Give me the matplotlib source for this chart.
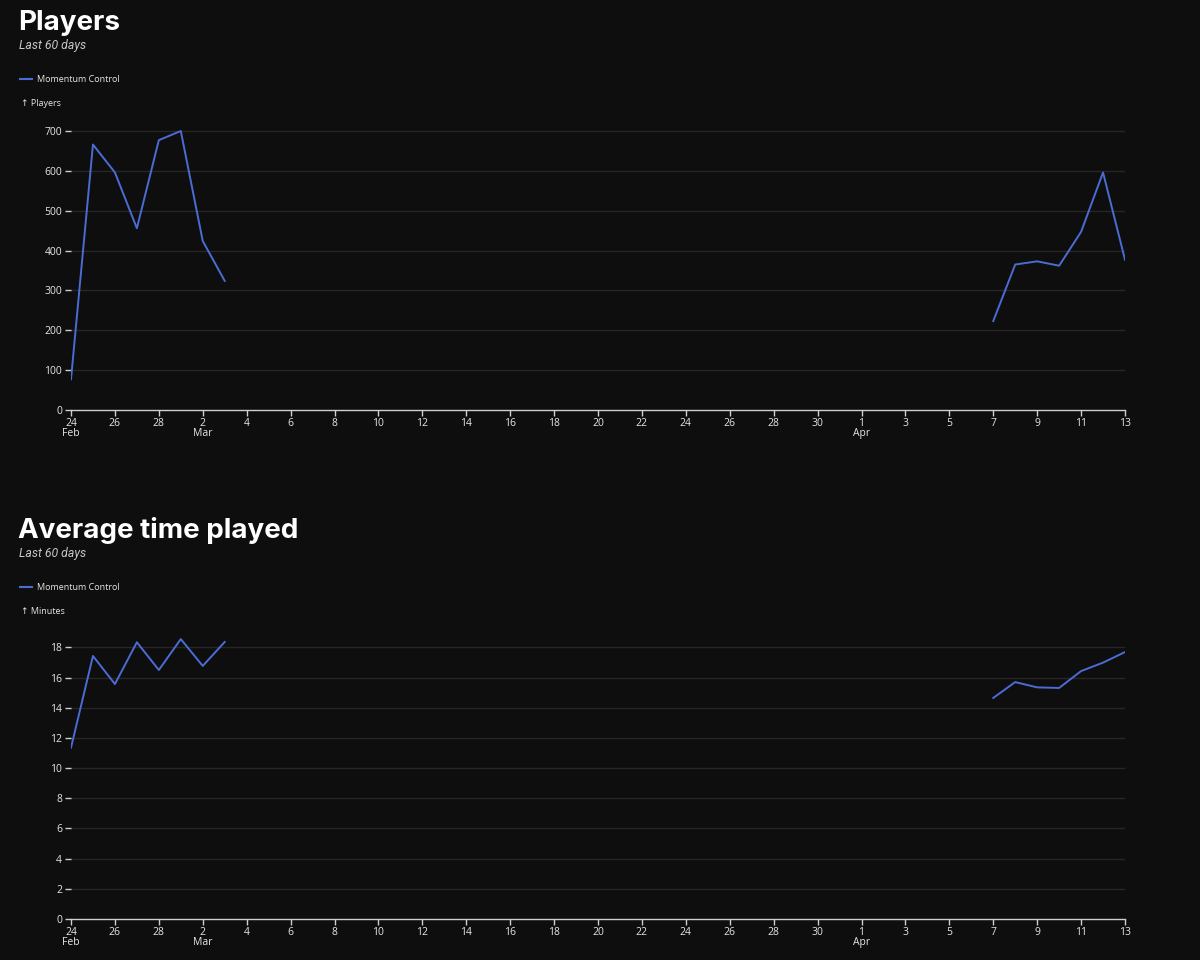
import numpy as np
import pandas as pd
import matplotlib
matplotlib.use('Agg')
import matplotlib.pyplot as plt
from matplotlib.lines import Line2D

# Daily values, two stretches of data with a gap in between
early_dates = pd.date_range('2025-02-24', '2025-03-03', freq='D')
late_dates = pd.date_range('2025-04-07', '2025-04-13', freq='D')

players_early = [77, 666, 596, 456, 677, 700, 424, 324]
players_late = [223, 365, 373, 362, 447, 596, 377]

minutes_early = [11.35, 17.43, 15.57, 18.34, 16.5, 18.55, 16.77, 18.36]
minutes_late = [14.65, 15.7, 15.35, 15.31, 16.43, 16.99, 17.69]

series_name = 'Momentum Control'
players_ticks = [0, 100, 200, 300, 400, 500, 600, 700]
minutes_ticks = [0, 2, 4, 6, 8, 10, 12, 14, 16, 18]

start = pd.Timestamp('2025-02-24')
end = pd.Timestamp('2025-04-13')
full_range = pd.date_range(start, end, freq='D')

BG = '#0e0e0e'
LINE = '#4a6cd4'
TXT = '#e6e6e6'
GRID = '#262626'

W, H = 1200, 960
fig = plt.figure(figsize=(12, 9.6), dpi=100, facecolor=BG)


def fx(px):
    return px / W


def fy(py):
    return 1 - py / H


def make_series(early, late):
    s = pd.Series(np.nan, index=full_range)
    s[early_dates] = early
    s[late_dates] = late
    return s


def draw_panel(top_px, title, unit, values, yticks, ytop, y0_px, ytop_px):
    # header texts
    fig.text(fx(18), fy(top_px + 23), title, color='white', fontsize=20,
             fontweight='bold', family='Inter', va='center', ha='left')
    fig.text(fx(19), fy(top_px + 45), 'Last 60 days', color='#c8c8c8',
             fontsize=8.8, style='italic', family='Roboto', va='center', ha='left')
    fig.add_artist(Line2D([fx(20), fx(32)], [fy(top_px + 79)] * 2,
                          color=LINE, lw=1.5))
    fig.text(fx(37), fy(top_px + 79), series_name, color=TXT, fontsize=6.5,
             family='Open Sans', va='center', ha='left')
    fig.text(fx(21), fy(top_px + 103), '\u2191 ' + unit, color=TXT, fontsize=6.5,
             family=['Open Sans', 'DejaVu Sans'], va='center', ha='left')

    ax = fig.add_axes([fx(71), fy(y0_px), fx(1125) - fx(71), fy(ytop_px) - fy(y0_px)])
    ax.set_facecolor(BG)
    ax.plot(values.index, values.values, color=LINE, lw=1.4)

    ax.set_ylim(0, ytop)
    ax.set_xlim(start, end)
    ax.set_yticks(yticks)
    ax.set_yticklabels([str(t) for t in yticks])
    for t in yticks[1:]:
        ax.axhline(t, color=GRID, lw=1, zorder=0)

    xt = pd.date_range(start, end, freq='2D')
    labels = []
    prev_month = None
    for d in xt:
        if d.month != prev_month:
            labels.append('%d\n%s' % (d.day, d.strftime('%b')))
        else:
            labels.append(str(d.day))
        prev_month = d.month
    ax.set_xticks(xt)
    ax.set_xticklabels(labels, linespacing=0.9)

    for side in ['top', 'right', 'left']:
        ax.spines[side].set_visible(False)
    ax.spines['bottom'].set_color('#cfcfcf')
    ax.spines['bottom'].set_linewidth(1)
    ax.tick_params(axis='x', colors='#cfcfcf', labelcolor=TXT, length=4,
                   width=1, pad=1.5, labelsize=7.5)
    ax.tick_params(axis='y', colors='#cfcfcf', labelcolor=TXT, length=4,
                   width=1, pad=2.5, labelsize=7.5)
    for lab in ax.get_xticklabels() + ax.get_yticklabels():
        lab.set_family('Open Sans')
    return ax


draw_panel(0, 'Players', 'Players', make_series(players_early, players_late),
           players_ticks, 705, 410, 410 - 705 * (279 / 700))
draw_panel(508, 'Average time played', 'Minutes', make_series(minutes_early, minutes_late),
           minutes_ticks, 18.8, 919, 919 - 18.8 * 15.09)

fig.savefig('out.png', dpi=100, facecolor=BG)
